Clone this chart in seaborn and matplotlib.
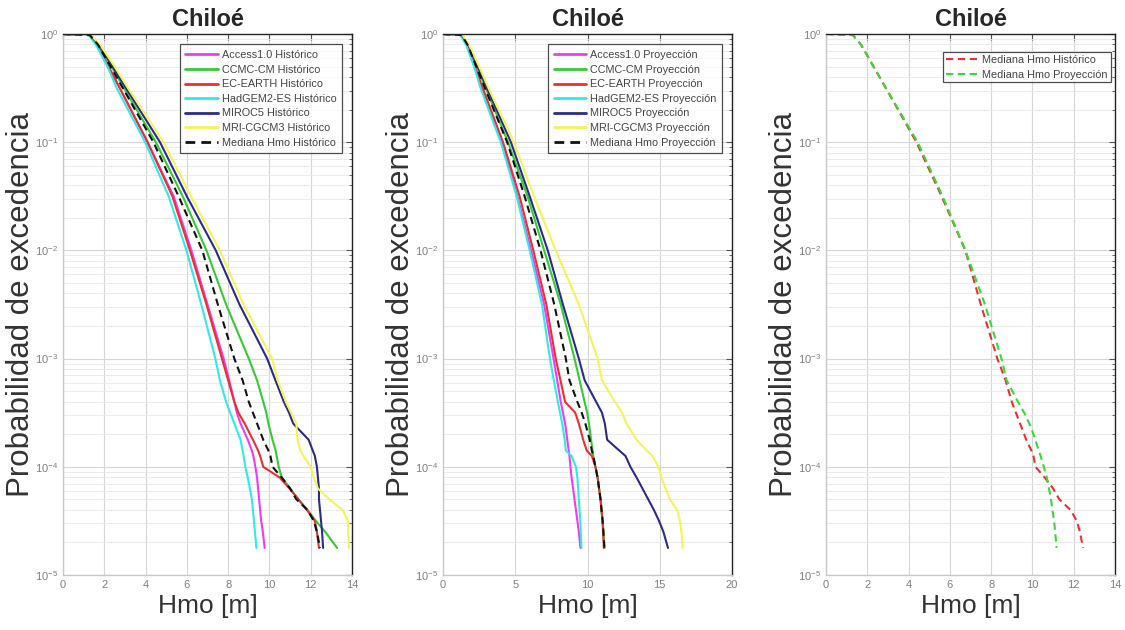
import numpy as np
import pandas as pd
import matplotlib
matplotlib.use("Agg")
import matplotlib.pyplot as plt
import seaborn as sns
from matplotlib.ticker import LogLocator, NullFormatter, MultipleLocator

# Exceedance probability levels (log10) shared by every curve
LOG_P = [0, -0.01, -0.1, -0.3, -0.5, -1.0, -1.5, -2.0, -2.5, -3.0, -3.2, -3.4,
         -3.5, -3.6, -3.75, -3.85, -3.9, -4.0, -4.1, -4.2, -4.3, -4.4, -4.5,
         -4.6, -4.75]

# Hmo [m] reached at each probability level - historical period
access_hist = [0, 1.3, 1.65, 2.2, 2.75, 4.09, 5.36, 6.22, 7.0, 7.78, 8.05, 8.3,
               8.42, 8.6, 8.95, 9.15, 9.22, 9.32, 9.4, 9.45, 9.5, 9.55, 9.6, 9.68, 9.77]
ccmc_hist = [0, 1.3, 1.7, 2.35, 2.95, 4.5, 5.8, 6.95, 7.9, 9.0, 9.4, 9.7,
             9.85, 9.95, 10.15, 10.3, 10.35, 10.45, 10.6, 11.0, 11.4, 11.85, 12.25, 12.7, 13.28]
ecearth_hist = [0, 1.3, 1.65, 2.2, 2.75, 4.1, 5.3, 6.15, 6.95, 7.7, 8.0, 8.3,
                8.5, 8.8, 9.2, 9.45, 9.55, 9.7, 10.5, 10.97, 11.4, 11.82, 12.2, 12.3, 12.4]
hadgem_hist = [0, 1.25, 1.6, 2.15, 2.6, 3.98, 5.12, 5.98, 6.7, 7.38, 7.6, 7.9,
               8.1, 8.3, 8.6, 8.7, 8.75, 8.83, 8.95, 9.05, 9.15, 9.2, 9.25, 9.3, 9.37]
miroc_hist = [0, 1.3, 1.75, 2.4, 3.05, 4.7, 6.0, 7.4, 8.55, 9.89, 10.29, 10.7,
              10.95, 11.15, 11.9, 12.1, 12.2, 12.3, 12.35, 12.4, 12.4, 12.45, 12.5, 12.55, 12.6]
mri_hist = [0, 1.35, 1.8, 2.5, 3.15, 4.87, 6.2, 7.6, 8.75, 10.13, 10.4, 10.8,
            11.05, 11.3, 11.36, 11.5, 11.65, 12.0, 12.15, 12.35, 12.9, 13.55, 13.8, 13.82, 13.85]
median_hist = [0, 1.3, 1.7, 2.3, 2.9, 4.38, 5.6, 6.75, 7.5, 8.3, 8.7, 9.0,
               9.2, 9.4, 9.7, 9.95, 10.05, 10.15, 10.6, 11.0, 11.3, 11.85, 12.15, 12.3, 12.45]

# Hmo [m] reached at each probability level - projection period
access_proj = [0, 1.25, 1.65, 2.2, 2.7, 4.1, 5.14, 6.1, 7.0, 7.65, 7.9, 8.15,
               8.3, 8.45, 8.6, 8.7, 8.75, 8.82, 8.9, 9.0, 9.1, 9.2, 9.3, 9.4, 9.51]
ccmc_proj = [0, 1.3, 1.7, 2.35, 2.95, 4.5, 5.85, 7.0, 8.15, 9.1, 9.45, 9.8,
             9.98, 10.1, 10.25, 10.35, 10.4, 10.55, 10.7, 10.8, 10.9, 10.97, 11.05, 11.1, 11.17]
ecearth_proj = [0, 1.25, 1.65, 2.2, 2.75, 4.15, 5.3, 6.25, 7.15, 7.8, 8.13, 8.45,
                9.15, 9.4, 9.7, 9.95, 10.3, 10.55, 10.7, 10.8, 10.9, 10.97, 11.03, 11.08, 11.13]
hadgem_proj = [0, 1.2, 1.6, 2.15, 2.6, 4.0, 5.1, 6.0, 6.85, 7.4, 7.67, 7.95,
               8.1, 8.25, 8.42, 8.5, 8.9, 9.2, 9.3, 9.35, 9.4, 9.45, 9.5, 9.53, 9.58]
miroc_proj = [0, 1.3, 1.75, 2.4, 3.05, 4.7, 6.0, 7.25, 8.3, 9.4, 9.8, 10.6,
              11.0, 11.2, 11.36, 12.2, 12.63, 12.97, 13.4, 13.8, 14.2, 14.6, 14.95, 15.25, 15.57]
mri_proj = [0, 1.35, 1.8, 2.5, 3.15, 4.9, 6.3, 7.8, 9.4, 10.7, 11.0, 11.9,
            12.39, 12.7, 13.4, 14.1, 14.5, 14.9, 15.12, 15.4, 15.7, 16.2, 16.4, 16.5, 16.59]
median_proj = [0, 1.3, 1.7, 2.3, 2.9, 4.44, 5.65, 6.75, 7.7, 8.5, 8.75, 9.3,
               9.6, 9.85, 10.15, 10.3, 10.4, 10.55, 10.7, 10.8, 10.9, 10.97, 11.05, 11.1, 11.17]

MODELS = ["Access1.0", "CCMC-CM", "EC-EARTH", "HadGEM2-ES", "MIROC5", "MRI-CGCM3"]
MODEL_COLORS = ["#f03cf0", "#33cc33", "#e83030", "#33e8e8", "#2b2b88", "#f4f45a"]

TITLE = "Chiloé"
XLABEL = "Hmo [m]"
YLABEL = "Probabilidad de excedencia"

hist_series = [access_hist, ccmc_hist, ecearth_hist, hadgem_hist, miroc_hist, mri_hist]
proj_series = [access_proj, ccmc_proj, ecearth_proj, hadgem_proj, miroc_proj, mri_proj]

prob = 10.0 ** np.array(LOG_P)

sns.set_style("white")
plt.rcParams["font.family"] = ["Liberation Sans", "DejaVu Sans"]

fig = plt.figure(figsize=(11.25, 6.3), dpi=100)
axes = [fig.add_axes([63 / 1125, 55 / 630, 289 / 1125, 541 / 630]),
        fig.add_axes([443 / 1125, 55 / 630, 289 / 1125, 541 / 630]),
        fig.add_axes([826 / 1125, 55 / 630, 289 / 1125, 541 / 630])]

DASH = (3.5, 2.2)


def panel_frame(names, curves, colors, dashed):
    rows = []
    for name, hmo in zip(names, curves):
        for x, p in zip(hmo, prob):
            rows.append({"Hmo": x, "P": p, "Serie": name})
    df = pd.DataFrame(rows)
    palette = dict(zip(names, colors))
    dashes = {n: (DASH if d else "") for n, d in zip(names, dashed)}
    return df, palette, dashes


def draw(ax, names, curves, colors, dashed, xmax, xstep, lw, legend_anchor, pad):
    df, palette, dashes = panel_frame(names, curves, colors, dashed)
    sns.lineplot(data=df, x="Hmo", y="P", hue="Serie", style="Serie",
                 palette=palette, dashes=dashes, sort=False, estimator=None,
                 linewidth=1.5, ax=ax)
    ax.set_yscale("log")
    ax.set_xlim(0, xmax)
    ax.set_ylim(1e-5, 1)
    ax.xaxis.set_major_locator(MultipleLocator(xstep))
    ax.yaxis.set_major_locator(LogLocator(base=10, numticks=10))
    ax.yaxis.set_minor_locator(LogLocator(base=10, subs=np.arange(2, 10), numticks=20))
    ax.yaxis.set_minor_formatter(NullFormatter())
    ax.grid(True, which="major", color="#d6d6d6", linewidth=0.8)
    ax.grid(True, which="minor", axis="y", color="#e8e8e8", linewidth=0.6)
    ax.tick_params(axis="both", which="both", direction="in", top=True, right=True,
                   labelsize=8, labelcolor="#808080", color="#555555")
    ax.tick_params(which="major", length=4)
    ax.tick_params(which="minor", length=2)
    for side, s in ax.spines.items():
        s.set_linewidth(1.0)
        s.set_color("#222222" if side in ("top", "right") else "#c8c8c8")
    ax.set_title(TITLE, fontsize=17, fontweight="bold", pad=6)
    ax.set_xlabel(XLABEL, fontsize=19, color="#333333", labelpad=3)
    ax.set_ylabel(YLABEL, fontsize=22.5, color="#333333", labelpad=-1)
    handles, labels = ax.get_legend_handles_labels()
    for h in handles:
        h.set_linewidth(lw)
    leg = ax.legend(handles, labels, loc="upper right", bbox_to_anchor=legend_anchor,
                    bbox_transform=ax.transAxes, fontsize=7.8,
                    frameon=True, fancybox=False, edgecolor="#222222",
                    handlelength=3.0, handletextpad=0.35, labelspacing=0.42,
                    borderpad=pad, borderaxespad=0.0)
    leg.get_frame().set_linewidth(0.9)
    for t in leg.get_texts():
        t.set_color("#444444")


hist_names = [m + " Histórico" for m in MODELS] + ["Mediana Hmo Histórico"]
proj_names = [m + " Proyección" for m in MODELS] + ["Mediana Hmo Proyección"]

draw(axes[0], hist_names, hist_series + [median_hist], MODEL_COLORS + ["#111111"],
     [False] * 6 + [True], 14, 2, 2.0, (0.967, 0.981), 0.55)
draw(axes[1], proj_names, proj_series + [median_proj], MODEL_COLORS + ["#111111"],
     [False] * 6 + [True], 20, 5, 2.0, (0.967, 0.981), 0.55)
draw(axes[2], ["Mediana Hmo Histórico", "Mediana Hmo Proyección"],
     [median_hist, median_proj], ["#e83030", "#33dd33"], [True, True], 14, 2, 1.5,
     (0.985, 0.966), 0.25)

fig.savefig("out.png", dpi=100)
